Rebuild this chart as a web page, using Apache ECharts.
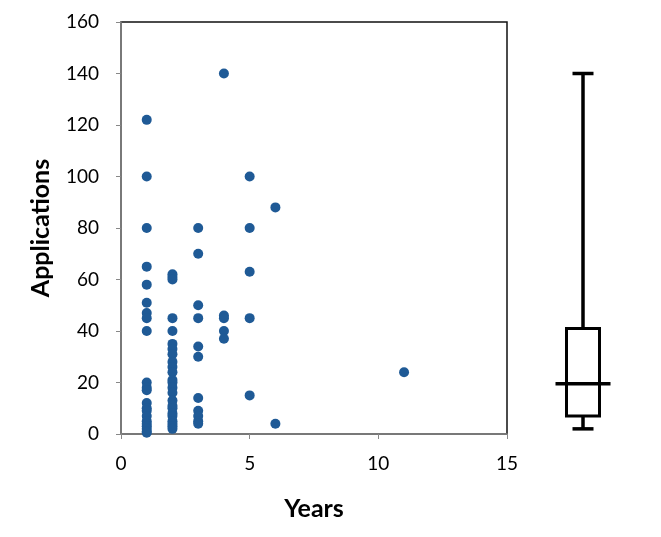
<!DOCTYPE html>
<html>
<head>
<meta charset="utf-8">
<script src="https://cdn.jsdelivr.net/npm/echarts@6/dist/echarts.min.js"></script>
<style>
  html, body { margin: 0; padding: 0; background: #fff; }
  #main { width: 661px; height: 537px; }
</style>
</head>
<body>
<div id="main"></div>
<script>
// years of experience vs number of applications
var years = [
  1,1,1,1,1,1,1,1,1,1,1,1,1,1,1,1,1,1,1,1,1,1,
  2,2,2,2,2,2,2,2,2,2,2,2,2,2,2,2,2,2,2,2,2,2,2,2,
  3,3,3,3,3,3,3,3,3,3,3,
  4,4,4,4,4,
  5,5,5,5,5,
  6,6,
  11
];
var applications = [
  122,100,80,65,58,51,47,45,40,20,18,17,12,10,9,7,5,4,3,2,1,0.5,
  62,61,60,45,40,35,33,31,28,26,24,21,20,18,16,13,11,10,8,7,5,4,3,2,
  80,70,50,45,34,30,14,9,7,5,4,
  140,46,45,40,37,
  100,80,63,45,15,
  88,4,
  24
];
// box plot: min, q1, median, q3, max
var boxStats = [2, 7, 19.5, 41, 140];

var points = [];
for (var i = 0; i < years.length; i++) {
  points.push([years[i], applications[i]]);
}

var font = 'Lato, "Open Sans", sans-serif';
var chart = echarts.init(document.getElementById('main'));

chart.setOption({
  animation: false,
  grid: [
    { left: 121, top: 22, width: 386, height: 412, show: true, borderColor: '#111', borderWidth: 1.5 },
    { left: 540, top: 22, width: 86, height: 412 }
  ],
  xAxis: [
    {
      gridIndex: 0, type: 'value', min: 0, max: 15, interval: 5,
      name: 'Years', nameLocation: 'middle', nameGap: 62,
      nameTextStyle: { fontFamily: font, fontSize: 25, fontWeight: 'bold', color: '#000' },
      axisLine: { show: true, lineStyle: { color: '#888', width: 1.5 } },
      axisTick: { show: true, length: 5, lineStyle: { color: '#888' } },
      axisLabel: { fontFamily: font, fontSize: 19, color: '#000', margin: 20 },
      splitLine: { show: false }
    },
    {
      gridIndex: 1, type: 'value', min: 0, max: 1, show: false
    }
  ],
  yAxis: [
    {
      gridIndex: 0, type: 'value', min: 0, max: 160, interval: 20,
      name: 'Applications', nameLocation: 'middle', nameGap: 68,
      nameTextStyle: { fontFamily: font, fontSize: 25, fontWeight: 'bold', color: '#000' },
      axisLine: { show: true, lineStyle: { color: '#888', width: 1.5 } },
      axisTick: { show: true, length: 5, lineStyle: { color: '#888' } },
      axisLabel: { fontFamily: font, fontSize: 19, color: '#000', margin: 22 },
      splitLine: { show: false }
    },
    {
      gridIndex: 1, type: 'value', min: 0, max: 160, show: false
    }
  ],
  series: [
    {
      type: 'scatter',
      xAxisIndex: 0, yAxisIndex: 0,
      data: points,
      symbolSize: 10,
      itemStyle: { color: '#1F5A96', opacity: 1 }
    },
    {
      type: 'custom',
      xAxisIndex: 1, yAxisIndex: 1,
      data: [[0.5].concat(boxStats)],
      renderItem: function (params, api) {
        var x = api.value(0);
        var pMin = api.coord([x, api.value(1)]);
        var pQ1 = api.coord([x, api.value(2)]);
        var pMed = api.coord([x, api.value(3)]);
        var pQ3 = api.coord([x, api.value(4)]);
        var pMax = api.coord([x, api.value(5)]);
        var cx = pMin[0];
        var st = { stroke: '#000', lineWidth: 3.5, fill: null };
        return {
          type: 'group',
          children: [
            { type: 'line', shape: { x1: cx, y1: pMax[1], x2: cx, y2: pQ3[1] }, style: st },
            { type: 'line', shape: { x1: cx - 10.5, y1: pMax[1], x2: cx + 10.5, y2: pMax[1] }, style: st },
            { type: 'rect', shape: { x: cx - 16.5, y: pQ3[1], width: 33, height: pQ1[1] - pQ3[1] }, style: { stroke: '#000', lineWidth: 3, fill: '#fff' } },
            { type: 'line', shape: { x1: cx - 27.5, y1: pMed[1], x2: cx + 27.5, y2: pMed[1] }, style: st },
            { type: 'line', shape: { x1: cx, y1: pQ1[1], x2: cx, y2: pMin[1] }, style: st },
            { type: 'line', shape: { x1: cx - 10.5, y1: pMin[1], x2: cx + 10.5, y2: pMin[1] }, style: st }
          ]
        };
      }
    }
  ]
});
</script>
</body>
</html>
